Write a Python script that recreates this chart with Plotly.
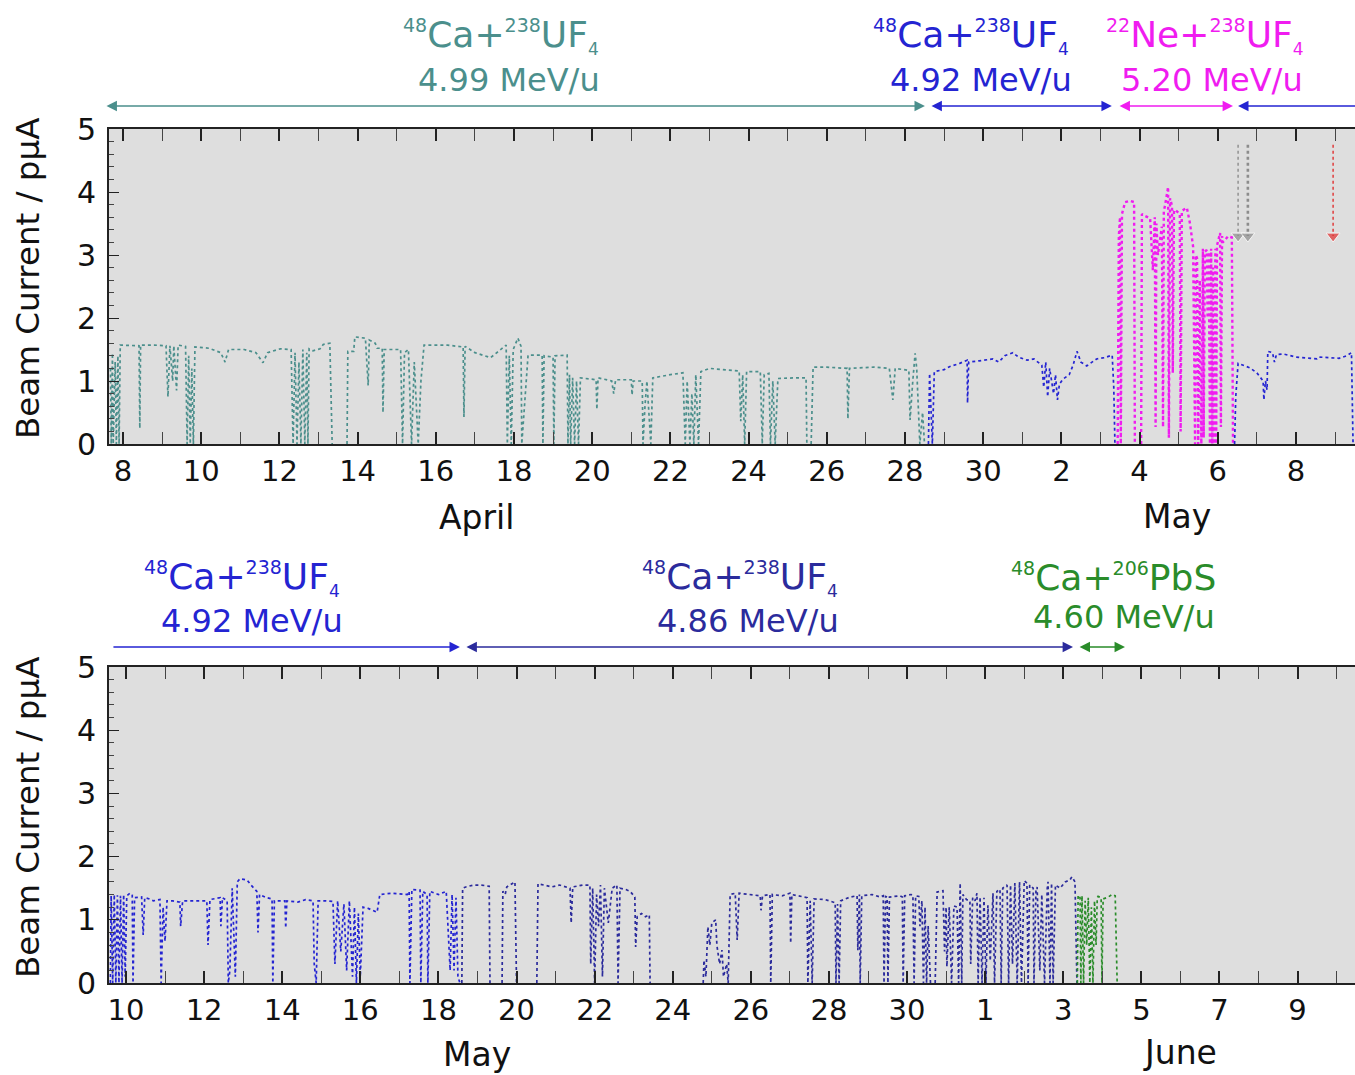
import pandas as pd
import plotly.graph_objects as go

# ---------------------------------------------------------------- data
# Time axis: days counted from the first labelled day of each panel.
# None in a current list marks a beam-off gap (no line drawn).
TOP_T0 = "2012-04-08"
BOT_T0 = "2012-05-10"

# --- upper panel --------------------------------------------------------
# 48Ca + 238UF4 at 4.99 MeV/u
ca499_day = [-0.32, -0.3, -0.27, -0.25, -0.2, -0.17, -0.13, -0.1, -0.07, 0.2, 0.41, 0.43, 0.45, 0.8,
             1.1, 1.15, 1.2, 1.27, 1.3, 1.37, 1.41, 1.6, 1.64, 1.68, 1.72, 1.76, 1.8, 1.84, 2.2, 2.5,
             2.61, 2.7, 3.1, 3.4, 3.58, 3.7, 4.02, 4.3, 4.35, 4.4, 4.45, 4.5, 4.55, 4.6, 4.65, 4.7,
             4.73, 4.76, 4.86, 5.04, 5.12, 5.29, 5.35, 5.5, 5.73, 5.75, 5.9, 5.93, 6.2, 6.27, 6.3, 6.45,
             6.5, 6.63, 6.65, 6.68, 7.1, 7.15, 7.2, 7.3, 7.38, 7.45, 7.55, 7.62, 7.7, 8.3, 8.7, 8.72,
             8.75, 9.0, 9.4, 9.8, 9.83, 9.88, 9.93, 9.98, 10.1, 10.18, 10.2, 10.25, 10.3, 10.36, 10.72,
             10.74, 10.77, 11.0, 11.02, 11.05, 11.36, 11.38, 11.42, 11.45, 11.5, 11.55, 11.6, 11.65,
             11.7, 12.1, 12.12, 12.15, 12.5, 12.55, 12.6, 13.0, 13.02, 13.05, 13.28, 13.3, 13.35, 13.4,
             13.5, 13.55, 14.0, 14.32, 14.38, 14.43, 14.5, 14.55, 14.6, 14.65, 14.72, 14.78, 15.0,
             15.4, 15.76, 15.8, 15.85, 15.9, 15.95, 16.3, 16.35, 16.4, 16.52, 16.56, 16.62, 16.68,
             16.75, 17.2, 17.47, 17.49, 17.55, 17.6, 17.65, 18.0, 18.52, 18.54, 18.58, 19.2, 19.6, 19.69,
             19.75, 20.1, 20.13, 20.2, 20.26, 20.3, 20.38, 20.45, 20.5]
ca499_cur = [1.2, 0, 1.44, 0, 1.3, 0, 1.4, 0, 1.57, 1.57, 1.56, 0.25, 1.57, 1.57,
             1.56, 0.75, 1.56, 1.0, 1.56, 0.85, 1.57, 1.55, 0, 1.4, 0, 1.2, 0, 1.54, 1.52, 1.45,
             1.3, 1.5, 1.5, 1.45, 1.29, 1.45, 1.51, 1.5, 0, 1.45, 0, 1.3, 0, 1.5, 0, 1.45,
             0, 1.51, 1.48, 1.51, 1.58, 1.6, 0, None, 0, 1.47, 1.47, 1.7, 1.68, 0.93, 1.65, 1.6,
             1.52, 1.52, 0.5, 1.5, 1.5, 0, 1.45, 1.5, 0, 1.3, 0, 1.0, 1.57, 1.57, 1.54, 0.43,
             1.55, 1.45, 1.37, 1.57, 0, 1.4, 0, 1.5, 1.68, 1.55, 0, 0.5, 1.0, 1.41, 1.41,
             0, 1.4, 1.38, 0, 1.4, 1.41, 0, 1.1, 0, 1.05, 0, 1.0, 0,
             1.05, 1.02, 0.55, 1.05, 1.0, 0.8, 1.02, 1.02, 0.78, 1.0, 1.0, 0, 0.6, 1.0,
             0, 1.05, 1.1, 1.13, 0, 1.0, 0, 0.8, 0, 1.1, 0, 1.15, 1.2,
             1.18, 1.16, 0.36, 1.1, 0, 1.15, 1.15, 0, 1.1, 1.12, 0, 1.0, 0,
             1.04, 1.05, 1.05, 0, None, 0, 1.22, 1.22, 1.2, 0.4, 1.2, 1.22, 1.2, 0.7,
             1.2, 1.17, 0.38, 1.0, 1.44, 1.2, 0, 0.5, 0]

# 48Ca + 238UF4 at 4.92 MeV/u, before the Ne run
ca492a_day = [20.6, 20.63, 20.7, 20.75, 21.0, 21.15, 21.4, 21.59, 21.6, 21.63, 21.9, 22.25, 22.4,
              22.55, 22.76, 22.9, 23.12, 23.3, 23.5, 23.55, 23.6, 23.65, 23.7, 23.8, 23.85, 23.9,
              23.95, 24.04, 24.2, 24.3, 24.4, 24.5, 24.65, 24.9, 25.1, 25.3, 25.34, 25.37]
ca492a_cur = [0, 1.12, 0, 1.15, 1.18, 1.23, 1.28, 1.33, 0.65, 1.3, 1.32, 1.35, 1.3,
              1.4, 1.45, 1.38, 1.33, 1.35, 1.25, 0.9, 1.3, 0.75, 1.2, 0.8, 1.1, 0.7,
              0.95, 1.03, 1.1, 1.25, 1.47, 1.3, 1.24, 1.35, 1.37, 1.41, 0.9, 0]

# 22Ne + 238UF4 at 5.20 MeV/u
ne520_day = [25.44, 25.47, 25.5, 25.52, 25.55, 25.63, 25.75, 25.86, 25.88, 25.96, 26.04, 26.06, 26.14,
             26.27, 26.34, 26.39, 26.41, 26.43, 26.47, 26.57, 26.6, 26.62, 26.65, 26.73, 26.75,
             26.78, 26.83, 26.85, 26.88, 26.91, 27.03, 27.05, 27.08, 27.21, 27.29, 27.37, 27.42,
             27.44, 27.47, 27.5, 27.54, 27.58, 27.62, 27.64, 27.67, 27.72, 27.74, 27.77, 27.8,
             27.83, 27.86, 27.88, 27.9, 27.94, 27.96, 27.98, 28.06, 28.08, 28.11, 28.13, 28.27,
             28.36, 28.39]
ne520_cur = [0, 3.3, 3.6, 0, 3.65, 3.84, 3.86, 3.84, 0, None, 0, 3.65, 3.62,
             3.58, 2.76, 3.6, 0.27, 3.5, 3.0, 3.45, 0.27, 3.7, 3.78, 4.08, 0.1,
             3.9, 3.78, 1.13, 3.7, 3.72, 3.65, 0.2, 3.7, 3.75, 3.5, 3.13, 0,
             3.0, 2.95, 0, 2.6, 0, 3.1, 0.1, 3.05, 3.08, 2.0, 3.05, 0,
             3.1, 0, 2.8, 0, 3.1, 0, 3.15, 3.35, 0.27, 3.3, 3.2, 3.3,
             3.28, 0]

# 48Ca + 238UF4 at 4.92 MeV/u, after the Ne run
ca492b_day = [28.43, 28.46, 28.52, 28.64, 28.82, 29.0, 29.1, 29.16, 29.18, 29.22, 29.26, 29.28,
              29.4, 29.45, 29.5, 29.67, 30.0, 30.3, 30.54, 30.6, 30.8, 31.1, 31.3, 31.42, 31.46]
ca492b_cur = [0, 0.75, 1.28, 1.25, 1.21, 1.13, 1.05, 1.0, 0.7, 1.0, 0.86, 1.47,
              1.45, 1.3, 1.42, 1.43, 1.38, 1.36, 1.35, 1.38, 1.37, 1.36, 1.4, 1.45, 0]

# event markers drawn as down arrows (start, tip)
grey_mark_day = [28.52, 28.77]
red_mark_day = [30.95]
mark_cur = [4.75, 3.3]

# --- lower panel --------------------------------------------------------
# 48Ca + 238UF4 at 4.92 MeV/u
ca492c_day = [-0.4, -0.38, -0.34, -0.3, -0.26, -0.22, -0.18, -0.14, -0.1, -0.06, -0.02, 0.02, 0.1,
              0.16, 0.18, 0.22, 0.4, 0.44, 0.48, 0.6, 0.7, 0.87, 0.9, 0.95, 1.0, 1.05, 1.2, 1.38,
              1.4, 1.45, 1.8, 2.07, 2.1, 2.15, 2.41, 2.43, 2.47, 2.59, 2.62, 2.66, 2.72, 2.8, 2.85,
              2.92, 3.1, 3.2, 3.35, 3.38, 3.42, 3.6, 3.74, 3.76, 3.8, 4.07, 4.09, 4.12, 4.4, 4.6,
              4.79, 4.82, 4.87, 4.92, 5.1, 5.3, 5.35, 5.42, 5.5, 5.58, 5.65, 5.72, 5.8, 5.85, 5.9,
              5.95, 6.0, 6.07, 6.2, 6.43, 6.5, 6.8, 7.2, 7.25, 7.27, 7.32, 7.53, 7.55, 7.6, 7.71,
              7.73, 7.78, 8.0, 8.2, 8.3, 8.35, 8.4, 8.45, 8.5, 8.55]
ca492c_cur = [0, 1.38, 0, 1.4, 0, 1.39, 0, 1.38, 0, 1.4, 0.1, 1.38, 1.42,
              1.4, 0, 1.35, 1.36, 0.76, 1.35, 1.33, 1.3, 1.32, 0, 1.2, 0.66, 1.3, 1.3, 1.28,
              0.9, 1.3, 1.3, 1.3, 0.6, 1.32, 1.35, 0.9, 1.35, 1.3, 0, 0.2, 1.5, 0.1, 1.6,
              1.65, 1.63, 1.55, 1.45, 0.8, 1.4, 1.35, 1.33, 0, 1.3, 1.3, 0.87, 1.3, 1.28, 1.32,
              1.3, 0.3, 0.0, 1.3, 1.3, 1.29, 0.3, 1.3, 0.5, 1.25, 0.2, 1.3, 0.1, 1.2, 0,
              1.1, 0.1, 1.2, 1.18, 1.12, 1.4, 1.42, 1.4, 1.45, 0, 1.48, 1.47, 0, 1.45, 1.4,
              0, 1.45, 1.4, 1.45, 0.2, 1.4, 0.2, 1.35, 0.1, 0]

# 48Ca + 238UF4 at 4.86 MeV/u
ca486_day = [8.6, 8.62, 8.7, 8.9, 9.1, 9.3, 9.32, 9.5, 9.63, 9.65, 9.71, 9.75, 9.96, 10.0, 10.3, 10.52,
             10.55, 10.7, 10.9, 11.1, 11.37, 11.4, 11.44, 11.7, 11.88, 11.9, 11.95, 12.0, 12.05, 12.1,
             12.15, 12.2, 12.25, 12.35, 12.45, 12.57, 12.6, 12.65, 12.8, 12.91, 13.03, 13.05, 13.09,
             13.2, 13.3, 13.4, 13.42, 14.1, 14.78, 14.8, 14.85, 14.9, 14.95, 15.0, 15.1, 15.13, 15.2,
             15.26, 15.3, 15.38, 15.42, 15.47, 15.6, 15.65, 15.7, 16.0, 16.24, 16.26, 16.3, 16.49,
             16.51, 16.55, 16.8, 17.0, 17.02, 17.05, 17.34, 17.44, 17.46, 17.52, 17.57, 17.62, 17.9,
             18.16, 18.18, 18.22, 18.26, 18.3, 18.54, 18.72, 18.74, 18.78, 18.8, 18.84, 19.1, 19.31,
             19.39, 19.41, 19.45, 19.49, 19.51, 19.55, 19.82, 19.88, 19.9, 19.94, 20.1, 20.15,
             20.18, 20.22, 20.3, 20.33, 20.38, 20.42, 20.46, 20.5, 20.54, 20.6, 20.66, 20.72, 20.77,
             20.92, 20.96, 21.0, 21.02, 21.08, 21.14, 21.2, 21.28, 21.32, 21.36, 21.4, 21.43, 21.52,
             21.61, 21.63, 21.68, 21.74, 21.79, 21.82, 21.87, 21.92, 21.97, 22.02, 22.07, 22.13, 22.2,
             22.24, 22.3, 22.38, 22.41, 22.45, 22.56, 22.6, 22.65, 22.7, 22.76, 22.82, 22.88, 22.93,
             23.0, 23.07, 23.1, 23.14, 23.23, 23.25, 23.3, 23.33, 23.4, 23.45, 23.52, 23.59, 23.61,
             23.66, 23.7, 23.74, 23.8, 23.92, 24.05, 24.17, 24.22, 24.3, 24.35]
ca486_cur = [0, 1.5, 1.52, 1.55, 1.55, 1.53, 0, None, 0, 1.45, 1.4, 1.52, 1.6, 0, None, 0,
             1.57, 1.55, 1.52, 1.55, 1.5, 0.95, 1.52, 1.55, 1.55, 0.3, 1.5, 0, 1.4, 0.9,
             1.55, 0.1, 1.5, 0.95, 1.5, 1.55, 0, 1.5, 1.48, 1.45, 1.36, 0.57, 1.05,
             1.1, 1.05, 1.08, 0, None, 0, 0.36, 0.1, 0.89, 0.6, 0.95, 1.0, 0.6, 0.3,
             0.52, 0.1, 0.3, 0, 1.4, 1.42, 0.68, 1.42, 1.4, 1.38, 1.15, 1.38, 1.4,
             0, 1.4, 1.38, 1.42, 0.63, 1.4, 1.36, 1.35, 0, 1.3, 0, 1.33, 1.32,
             1.27, 0, 1.25, 0, 1.3, 1.36, 1.38, 0.52, 1.4, 0, 1.38, 1.4, 1.36,
             1.38, 0, 1.37, 1.36, 0, 1.36, 1.38, 1.36, 0, 1.38, 1.4, 1.39,
             0, 1.38, 1.37, 0.9, 1.3, 0, 1.2, 0, 0.9, 0, None, 0, 1.44,
             1.46, 0.5, 1.2, 0.26, 1.2, 0, 1.22, 1.2, 0, 1.58, 0, 1.4, 1.32,
             1.3, 0.3, 1.35, 1.3, 1.42, 0, 1.36, 0, 1.35, 0, 1.23, 0.35, 1.42,
             0, 1.45, 1.48, 0, 1.5, 1.55, 0, 1.55, 0.3, 1.58, 0, 1.6, 0,
             1.62, 1.58, 0, 1.55, 1.5, 0, 1.45, 1.52, 0.2, 1.4, 0, 1.5, 1.6,
             0, 1.58, 0, 1.55, 1.5, 1.6, 1.63, 1.68, 1.6, 0]

# 48Ca + 206PbS at 4.60 MeV/u
pbs460_day = [24.36, 24.38, 24.43, 24.45, 24.48, 24.52, 24.56, 24.6, 24.64, 24.68, 24.72, 24.76,
              24.8, 24.84, 24.87, 24.89, 24.97, 24.99, 25.02, 25.15, 25.25, 25.33, 25.38]
pbs460_cur = [0, 1.39, 1.35, 0, 1.38, 0, 1.3, 0.6, 1.35, 0, 1.2, 0,
              1.3, 0.6, 1.35, 1.37, 1.35, 0, 1.33, 1.36, 1.4, 1.38, 0]

# beam periods shown as arrows above each panel (start day, end day)
top_periods = [(-0.46, 20.51), (20.64, 25.29), (25.45, 28.39), (28.52, 32.6)]
bot_periods = [(-0.36, 8.55), (8.68, 24.25), (24.38, 25.58)]

# ---------------------------------------------------------------- style
FONT = "DejaVu Sans"
W, H = 1355, 1075
C_TEAL = "#4b8f8c"
C_BLUE = "#2424d2"
C_MAG = "#f01cf0"
C_DBLUE = "#2b2b9c"
C_GREEN = "#2a8c2a"
C_GREY = "#8c8c8c"
C_RED = "#e03030"

DAY_MS = 86400000


def dates(t0, days):
    base = pd.Timestamp(t0)
    return [base + pd.Timedelta(days=d) for d in days]


def px_x(p):
    return p / W


def px_y(p):
    return 1 - p / H


fig = go.Figure()


def add_series(t0, days, cur, color, xa, ya, width=1.7):
    fig.add_trace(go.Scatter(
        x=dates(t0, days), y=cur, mode="lines", xaxis=xa, yaxis=ya, connectgaps=False,
        line=dict(color=color, width=width, dash="dot"), showlegend=False,
        hoverinfo="skip"))


add_series(TOP_T0, ca499_day, ca499_cur, C_TEAL, "x", "y")
add_series(TOP_T0, ca492a_day, ca492a_cur, C_BLUE, "x", "y")
add_series(TOP_T0, ne520_day, ne520_cur, C_MAG, "x", "y", width=2.4)
add_series(TOP_T0, ca492b_day, ca492b_cur, C_BLUE, "x", "y")
add_series(BOT_T0, ca492c_day, ca492c_cur, C_BLUE, "x2", "y2")
add_series(BOT_T0, ca486_day, ca486_cur, C_DBLUE, "x2", "y2")
add_series(BOT_T0, pbs460_day, pbs460_cur, C_GREEN, "x2", "y2")

# event markers: dotted stems ending in a down-pointing head
for d, col, w in [(grey_mark_day[0], C_GREY, 1.4), (grey_mark_day[1], C_GREY, 2.6),
                  (red_mark_day[0], C_RED, 1.4)]:
    fig.add_trace(go.Scatter(
        x=dates(TOP_T0, [d, d]), y=mark_cur, mode="lines+markers", xaxis="x", yaxis="y",
        line=dict(color=col, width=w, dash="dot"),
        marker=dict(symbol="triangle-down", size=[0, 12], color=col),
        showlegend=False, hoverinfo="skip"))

# ---------------------------------------------------------------- axes
top_rng = dates(TOP_T0, [-0.358, 31.51])
bot_rng = dates(BOT_T0, [-0.435, 31.47])
X_DOMAIN = [px_x(109), 1.0]


def xaxis_cfg(rng, t0, dom_y_anchor):
    return dict(
        type="date", range=rng, domain=X_DOMAIN, anchor=dom_y_anchor, automargin=False,
        tick0=t0, dtick=2 * DAY_MS, tickformat="%-d",
        ticks="inside", ticklen=12, tickwidth=1.6, tickcolor="#222",
        minor=dict(dtick=DAY_MS, tick0=t0, ticks="inside", ticklen=12, tickwidth=1.2,
                   tickcolor="#444"),
        showline=True, linecolor="#222", linewidth=2, mirror="ticks",
        showgrid=False, zeroline=False,
        tickfont=dict(family=FONT, size=29, color="#111"),
        ticklabelstandoff=0,
    )


def yaxis_cfg(dom, xa):
    return dict(
        range=[0, 5], domain=dom, anchor=xa, dtick=1, automargin=False,
        ticks="inside", ticklen=10, tickwidth=1.4, tickcolor="#222",
        minor=dict(dtick=0.2, ticks="inside", ticklen=5, tickwidth=1, tickcolor="#444"),
        showline=True, linecolor="#222", linewidth=2, mirror=False,
        showgrid=False, zeroline=False,
        tickfont=dict(family=FONT, size=30, color="#111"),
        ticklabelstandoff=5,
    )


fig.update_layout(
    width=W, height=H,
    margin=dict(l=0, r=0, t=0, b=0, pad=0, autoexpand=False),
    paper_bgcolor="white",
    plot_bgcolor="#dedede",
    showlegend=False,
    xaxis=xaxis_cfg(top_rng, TOP_T0, "y"),
    yaxis=yaxis_cfg([px_y(444), px_y(129)], "x"),
    xaxis2=xaxis_cfg(bot_rng, BOT_T0, "y2"),
    yaxis2=yaxis_cfg([px_y(983), px_y(667)], "x2"),
)

ann = []

# axis titles
for yc in (px_y(279), px_y(818)):
    ann.append(dict(text="Beam Current / p\u03bcA", xref="paper", yref="paper",
                    x=px_x(28), y=yc, textangle=-90, showarrow=False,
                    xanchor="center", yanchor="middle",
                    font=dict(family=FONT, size=32.5, color="#111")))

# month labels
for txt, t0, d, xr, yp in [("April", TOP_T0, 9.03, "x", 518), ("May", TOP_T0, 26.96, "x", 516),
                           ("May", BOT_T0, 9.0, "x2", 1054), ("June", BOT_T0, 27.0, "x2", 1052)]:
    ann.append(dict(text=txt, xref=xr, yref="paper", x=dates(t0, [d])[0], y=px_y(yp),
                    showarrow=False, xanchor="center", yanchor="middle",
                    font=dict(family=FONT, size=33, color="#111")))


def reaction(proj_a, proj, targ_a, targ, sub):
    s = "<span style='font-size:19px'>"
    txt = f"<sup>{s}{proj_a}</span></sup>{proj}+<sup>{s}{targ_a}</span></sup>{targ}"
    if sub:
        txt += f"<sub><span style='font-size:17px'>{sub}</span></sub>"
    return txt


labels = [
    (reaction("48", "Ca", "238", "UF", "4"), "4.99 MeV/u", C_TEAL, 501, 509, 37, 80),
    (reaction("48", "Ca", "238", "UF", "4"), "4.92 MeV/u", C_BLUE, 971, 981, 37, 80),
    (reaction("22", "Ne", "238", "UF", "4"), "5.20 MeV/u", C_MAG, 1205, 1212, 37, 80),
    (reaction("48", "Ca", "238", "UF", "4"), "4.92 MeV/u", C_BLUE, 242, 252, 578, 621),
    (reaction("48", "Ca", "238", "UF", "4"), "4.86 MeV/u", C_DBLUE, 740, 748, 578, 621),
    (reaction("48", "Ca", "206", "PbS", ""), "4.60 MeV/u", C_GREEN, 1113, 1124, 577, 617),
]
for l1, l2, col, x1, x2, y1, y2 in labels:
    ann.append(dict(text=l1, xref="paper", yref="paper", x=px_x(x1), y=px_y(y1),
                    showarrow=False, xanchor="center", yanchor="middle",
                    font=dict(family=FONT, size=36, color=col)))
    ann.append(dict(text=l2, xref="paper", yref="paper", x=px_x(x2), y=px_y(y2),
                    showarrow=False, xanchor="center", yanchor="middle",
                    font=dict(family=FONT, size=32, color=col)))


def period_arrow(t0, xr, start, end, col, yp, heads):
    return dict(text="", xref=xr, yref="paper", axref=xr, ayref="pixel",
                x=dates(t0, [end])[0], y=px_y(yp), ax=dates(t0, [start])[0], ay=0,
                showarrow=True, arrowcolor=col, arrowwidth=1.6,
                arrowhead=2, arrowsize=1.3, startarrowhead=2, startarrowsize=1.3,
                arrowside=heads)


top_cols = [C_TEAL, C_BLUE, C_MAG, C_BLUE]
for (s, e), col in zip(top_periods, top_cols):
    if e > 31.5:
        # period continues past the right edge: only its start is marked
        ann.append(period_arrow(TOP_T0, "x", e, s, col, 106, "end"))
    else:
        ann.append(period_arrow(TOP_T0, "x", s, e, col, 106, "end+start"))

bot_cols = [C_BLUE, C_DBLUE, C_GREEN]
for i, ((s, e), col) in enumerate(zip(bot_periods, bot_cols)):
    heads = "end" if i == 0 else "end+start"
    ann.append(period_arrow(BOT_T0, "x2", s, e, col, 647, heads))

fig.update_layout(annotations=ann)

fig.write_html("out.html")
